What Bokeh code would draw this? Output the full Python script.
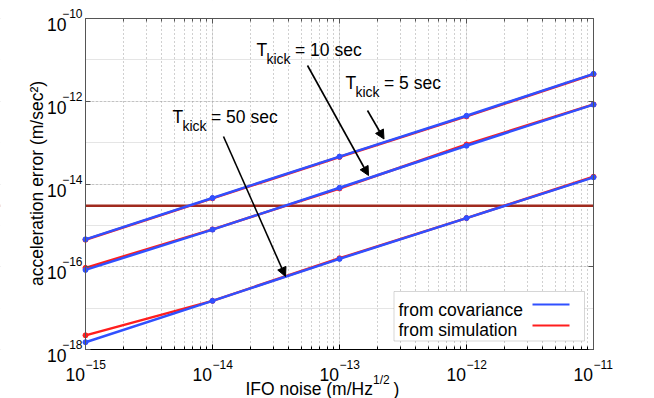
import math
from bokeh.plotting import figure
from bokeh.models import (FixedTicker, LogAxis, Label, Arrow, NormalHead, Span, BoxAnnotation,
                          CustomJSTickFormatter, Grid)
from bokeh.embed import file_html
from bokeh.resources import INLINE

# ---------------- data ----------------
noise = [1e-15, 1e-14, 1e-13, 1e-12, 1e-11]
cov_5 = [4.6e-16, 4.6e-15, 4.6e-14, 4.45e-13, 4.6e-12]
sim_5 = [4.5e-16, 4.5e-15, 4.5e-14, 4.3e-13, 4.5e-12]
cov_10 = [8.4e-17, 7.9e-16, 8.1e-15, 8.4e-14, 8.3e-13]
sim_10 = [9.4e-17, 8.0e-16, 7.8e-15, 9.0e-14, 8.4e-13]
cov_50 = [1.5e-18, 1.5e-17, 1.55e-16, 1.5e-15, 1.45e-14]
sim_50 = [2.2e-18, 1.5e-17, 1.6e-16, 1.5e-15, 1.5e-14]
req_level = 3e-15

x_major = [1e-15, 1e-14, 1e-13, 1e-12, 1e-11]
x_exps = ["\u221215", "\u221214", "\u221213", "\u221212", "\u221211"]
x_minor = [m * 10.0 ** e for e in range(-15, -11) for m in range(2, 10)]
y_major = [1e-18, 1e-16, 1e-14, 1e-12, 1e-10]
y_exps = ["\u221218", "\u221216", "\u221214", "\u221212", "\u221210"]

kick_names = ["10 sec", "5 sec", "50 sec"]

FONT = "Liberation Sans"
BLUE = "#3050FF"
RED = "#FF1E1E"
REQ = "#A02A1E"
W, H = 654, 398

# axes box on the page (px); the plotting frame covers the whole canvas so that
# texts outside the axes box are not clipped
FL, FR, FT, FB = 85, 593, 18, 349
XLO, XHI = x_major[0], x_major[-1]
YLO, YHI = y_major[0], y_major[-1]
XDEC = math.log10(XHI / XLO) / (FR - FL)   # decades per px
YDEC = math.log10(YHI / YLO) / (FB - FT)


def px2x(px):
    return XLO * 10 ** ((px - FL) * XDEC)


def py2y(py):
    return YLO * 10 ** ((FB - py) * YDEC)


p = figure(width=W, height=H, x_axis_type="log", y_axis_type="log",
           x_range=(px2x(0), px2x(W)), y_range=(py2y(H), py2y(0)),
           x_axis_location=None, y_axis_location=None,
           min_border=0, output_backend="svg", toolbar_location=None)
p.background_fill_color = "white"
p.border_fill_color = "white"
p.outline_line_color = None

blank = CustomJSTickFormatter(code="return ' '")


def make_axis(ticks, minor, color, fixed, bounds, place):
    ax = LogAxis(ticker=FixedTicker(ticks=ticks, minor_ticks=minor), formatter=blank,
                 fixed_location=fixed, bounds=bounds)
    ax.major_label_text_font_size = "6px"
    ax.major_label_text_alpha = 0
    ax.major_label_standoff = 0
    ax.major_tick_in = 5
    ax.major_tick_out = 0
    ax.minor_tick_in = 3
    ax.minor_tick_out = 0
    ax.axis_line_color = color
    ax.axis_line_width = 1
    ax.major_tick_line_color = color
    ax.minor_tick_line_color = color
    p.add_layout(ax, place)
    return ax


xt = FixedTicker(ticks=x_major, minor_ticks=x_minor)
yt = FixedTicker(ticks=y_major, minor_ticks=[])
xg = Grid(dimension=0, ticker=xt, grid_line_color="#a0a0a0", grid_line_dash="1 3",
          minor_grid_line_color="#a0a0a0", minor_grid_line_dash="1 3")
yg = Grid(dimension=1, ticker=yt, grid_line_color="#a0a0a0", grid_line_dash="1 3")
p.add_layout(xg)
p.add_layout(yg)

# requirement level (underlay, trimmed by the white margins below)
p.add_layout(Span(location=req_level, dimension="width", line_color=REQ, line_width=2.5,
                  level="underlay"))

# white margins around the axes box (hide grid/span outside the box)
OUT_L, OUT_R, OUT_T, OUT_B = px2x(-60), px2x(W + 60), py2y(-60), py2y(H + 60)
for kw in (dict(left=OUT_L, right=XLO, top=OUT_T, bottom=OUT_B),
           dict(left=XHI, right=OUT_R, top=OUT_T, bottom=OUT_B),
           dict(left=OUT_L, right=OUT_R, top=OUT_T, bottom=YHI),
           dict(left=OUT_L, right=OUT_R, top=YLO, bottom=OUT_B)):
    p.add_layout(BoxAnnotation(fill_color="white", fill_alpha=1.0, line_color=None,
                               level="underlay", **kw))

# axes box
make_axis(x_major, x_minor, "black", YLO, (XLO, XHI), "below")
make_axis(x_major, x_minor, "#555555", YHI, (XLO, XHI), "above")
make_axis(y_major, [], "#555555", XLO, (YLO, YHI), "left")
make_axis(y_major, [], "#555555", XHI, (YLO, YHI), "right")

# simulation (red) under covariance (blue)
for ys in (sim_5, sim_10, sim_50):
    p.line(noise, ys, line_color=RED, line_width=2.5)
    p.scatter(noise, ys, size=5, color=RED)
for ys in (cov_5, cov_10, cov_50):
    p.line(noise, ys, line_color=BLUE, line_width=2.5)
    p.scatter(noise, ys, size=5, color=BLUE)


# ---------------- annotations ----------------
def lab(x, y, text, size, align="left", baseline="alphabetic", xo=0, yo=0, angle=0):
    p.add_layout(Label(x=x, y=y, text=text, text_font=FONT, text_font_size=f"{size}px",
                       text_align=align, text_baseline=baseline, text_color="black",
                       x_offset=xo, y_offset=yo, angle=angle))


# kick labels: (T left px, baseline px)
kick_pos = [(256, 49.5), (345, 82), (172, 116)]
for name, (tx, ty) in zip(kick_names, kick_pos):
    lab(px2x(tx), py2y(ty), "T", 17.5)
    lab(px2x(tx + 10), py2y(ty + 9), "kick", 14)
    lab(px2x(tx + 38.5), py2y(ty), "= " + name, 17.5)

# arrows (start px -> end px)
arrows = [((307, 65), (368, 175)), ((367, 110), (383.5, 138.5)), ((223, 136), (285, 276))]
for (sx, sy), (ex, ey) in arrows:
    p.add_layout(Arrow(end=NormalHead(size=9, fill_color="black", line_color="black", line_width=1),
                       x_start=px2x(sx), y_start=py2y(sy), x_end=px2x(ex), y_end=py2y(ey),
                       line_color="black", line_width=1.6))

# legend
p.add_layout(BoxAnnotation(left=px2x(393.5), right=px2x(584), top=py2y(291), bottom=py2y(340.5),
                           fill_color="white", fill_alpha=1.0, line_color="#777777", line_width=1,
                           level="annotation"))
lab(px2x(398), py2y(309), "from covariance", 17.5)
lab(px2x(398), py2y(329.5), "from simulation", 17.5)
p.add_layout(Arrow(end=None, x_start=px2x(532), y_start=py2y(304), x_end=px2x(569), y_end=py2y(304),
                   line_color=BLUE, line_width=2))
p.add_layout(Arrow(end=None, x_start=px2x(532), y_start=py2y(325), x_end=px2x(569), y_end=py2y(325),
                   line_color=RED, line_width=2))

# tick labels
for xv, ex in zip(x_major, x_exps):
    lab(xv, py2y(373.5), "10", 17.5, align="right", xo=-0.5)
    lab(xv, py2y(363.5), ex, 12, align="left")
for yv, ex in zip(y_major, y_exps):
    lab(px2x(66), yv, "10", 17.5, align="right", yo=-6)
    lab(px2x(82), yv, ex, 12, align="right", yo=5)

# axis titles
lab(px2x(245), py2y(388), "IFO noise (m/Hz", 17.5)
lab(px2x(372.5), py2y(379), "1/2", 12)
lab(px2x(393), py2y(388), ")", 17.5)
lab(px2x(36), py2y(183), "acceleration error (m/sec\u00b2)", 17.5, align="center", angle=math.pi / 2)

open("out.html", "w").write(file_html(p, INLINE))
